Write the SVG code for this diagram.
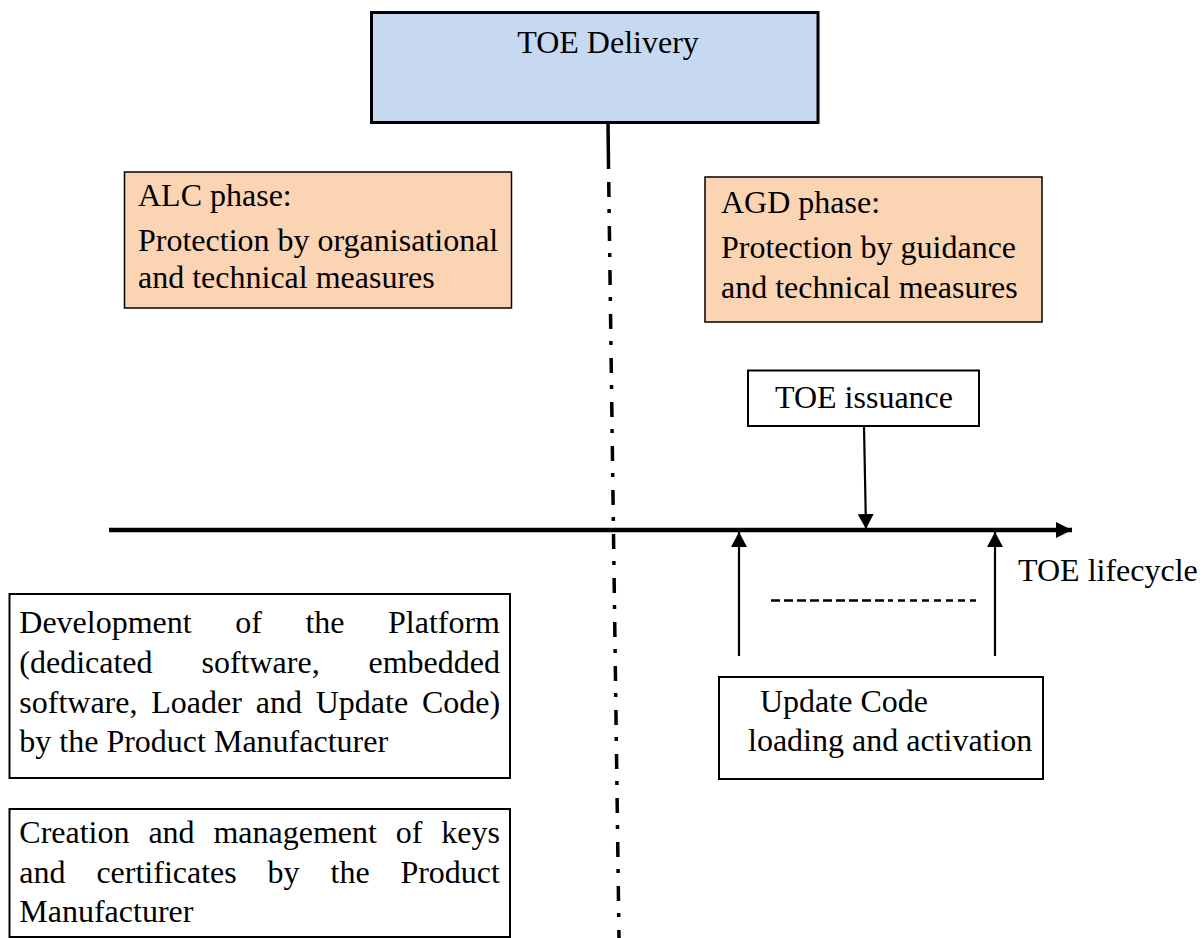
<svg xmlns="http://www.w3.org/2000/svg" width="1204" height="938" viewBox="0 0 1204 938">
  <style>
    text { font-family: "Liberation Serif", "Times New Roman", serif; font-size: 32px; fill: #000; }
    .box { fill: #fff; stroke: #000; stroke-width: 2; }
    .phase { fill: #FBD4B4; stroke: #000; stroke-width: 1.5; }
    .thin { fill: none; stroke: #000; stroke-width: 2.2; }
  </style>
  <defs>
    <marker id="head" markerUnits="userSpaceOnUse" markerWidth="16" markerHeight="16" refX="15" refY="8" orient="auto">
      <path d="M0,0 L15,8 L0,16 Z" fill="#000"/>
    </marker>
    <marker id="bighead" markerUnits="userSpaceOnUse" markerWidth="18" markerHeight="18" refX="16" refY="8" orient="auto">
      <path d="M0,0 L16,8 L0,16 Z" fill="#000"/>
    </marker>
  </defs>

  <!-- connectors: delivery boundary, lifecycle axis and event arrows -->
  <g id="connectors">
    <path d="M608,122 L608.5,165" stroke="#000" stroke-width="3.5" fill="none"/>
    <path d="M608.5,165 L619,938" stroke="#000" stroke-width="3.5" fill="none" stroke-dasharray="4 13 15 12"/>
    <line x1="109" y1="530" x2="1072" y2="530" stroke="#000" stroke-width="4.5" marker-end="url(#bighead)"/>
    <line x1="864" y1="426" x2="866" y2="529" class="thin" marker-end="url(#head)"/>
    <line x1="739" y1="656" x2="739" y2="532" class="thin" marker-end="url(#head)"/>
    <line x1="995" y1="656" x2="995" y2="532" class="thin" marker-end="url(#head)"/>
    <line x1="771" y1="600.5" x2="893" y2="600.5" stroke="#000" stroke-width="2.5" stroke-dasharray="9 4"/>
    <line x1="898" y1="600.5" x2="976" y2="600.5" stroke="#000" stroke-width="2.5" stroke-dasharray="7 5"/>
  </g>

  <g id="toe-delivery">
    <rect x="371.5" y="12.5" width="446.5" height="110" fill="#C6D9F1" stroke="#000" stroke-width="3"/>
    <text x="608" y="53" text-anchor="middle">TOE Delivery</text>
  </g>

  <g id="alc-phase">
    <rect x="124.5" y="172" width="387" height="136" class="phase"/>
    <text x="138" y="206">ALC phase:</text>
    <text x="138" y="251">Protection by organisational</text>
    <text x="138" y="288">and technical measures</text>
  </g>

  <g id="agd-phase">
    <rect x="705" y="177" width="337" height="145" class="phase"/>
    <text x="721" y="213">AGD phase:</text>
    <text x="721" y="258">Protection by guidance</text>
    <text x="721" y="298">and technical measures</text>
  </g>

  <g id="toe-issuance">
    <rect x="748" y="370.5" width="231" height="55.5" class="box"/>
    <text x="864" y="408" text-anchor="middle">TOE issuance</text>
  </g>

  <g id="toe-lifecycle">
    <text x="1018" y="581">TOE lifecycle</text>
  </g>

  <g id="platform-development">
    <rect x="9.5" y="594" width="500.5" height="184" class="box"/>
    <text y="633"><tspan x="19.3">Development</tspan><tspan x="235.2">of</tspan><tspan x="305.4">the</tspan><tspan x="388">Platform</tspan></text>
    <text y="673"><tspan x="19.3">(dedicated</tspan><tspan x="201.5">software,</tspan><tspan x="368.5">embedded</tspan></text>
    <text y="713"><tspan x="19.3">software,</tspan><tspan x="151.3">Loader</tspan><tspan x="255.7">and</tspan><tspan x="315.7">Update</tspan><tspan x="421.9">Code)</tspan></text>
    <text x="19.3" y="752">by the Product Manufacturer</text>
  </g>

  <g id="keys-certificates">
    <rect x="9.5" y="809" width="500.5" height="128" class="box"/>
    <text y="843"><tspan x="19.3">Creation</tspan><tspan x="148.4">and</tspan><tspan x="213.4">management</tspan><tspan x="395.8">of</tspan><tspan x="441.3">keys</tspan></text>
    <text y="883"><tspan x="19.3">and</tspan><tspan x="96.4">certificates</tspan><tspan x="267.6">by</tspan><tspan x="330.5">the</tspan><tspan x="400.4">Product</tspan></text>
    <text x="19.3" y="922">Manufacturer</text>
  </g>

  <g id="update-code">
    <rect x="719" y="677" width="324" height="102" class="box"/>
    <text x="760" y="712">Update Code</text>
    <text x="748" y="751">loading and activation</text>
  </g>
</svg>
